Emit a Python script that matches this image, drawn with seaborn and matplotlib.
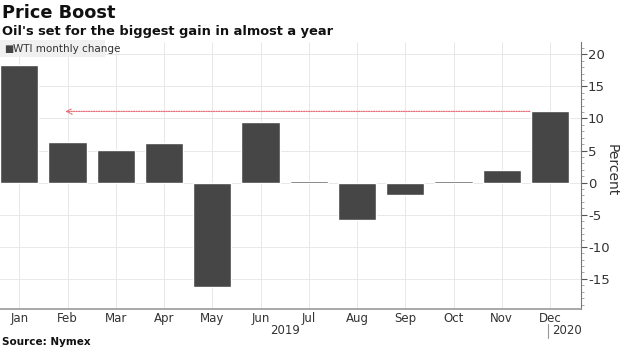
import matplotlib
matplotlib.use("Agg")
import matplotlib.pyplot as plt
import seaborn as sns
import pandas as pd
from matplotlib.ticker import MultipleLocator

months = ["Jan", "Feb", "Mar", "Apr", "May", "Jun", "Jul", "Aug", "Sep", "Oct", "Nov", "Dec"]
changes = [18.4, 6.4, 5.1, 6.2, -16.2, 9.4, 0.2, -5.8, -1.9, 0.2, 1.9, 11.1]
yticks = [-15, -10, -5, 0, 5, 10, 15, 20]

sns.set_style("white")
plt.rcParams['font.family'] = ['DejaVu Sans']

df = pd.DataFrame({"month": months, "change": changes})

fig = plt.figure(figsize=(6.2, 3.48), dpi=100)
ax = fig.add_axes([0.0, 0.112, 0.937, 0.767])

sns.barplot(data=df, x="month", y="change", color="#464646", saturation=1,
            width=0.79, ax=ax, zorder=3)

ax.set_xlim(-0.4, 11.64)
ax.set_ylim(-19.7, 21.9)

ax.yaxis.tick_right()
ax.set_yticks(yticks)
ax.set_yticklabels([str(v) for v in yticks])
ax.yaxis.set_minor_locator(MultipleLocator(1))
ax.tick_params(axis="y", which="major", length=4, color="#555555", labelsize=9.5,
               labelcolor="#333333", pad=1, direction="out")
ax.tick_params(axis="y", which="minor", length=2, color="#999999")
ax.tick_params(axis="x", length=1.5, color="#555555", labelsize=8.5,
               labelcolor="#333333", pad=0.5)
ax.set_xlabel("")
ax.set_ylabel("")
fig.text(612 / 620, 1 - 170 / 348, "Percent", rotation=270, fontsize=10,
         color="#333333", ha="center", va="center")

ax.grid(True, color="#e8e8e8", linewidth=0.7, zorder=0)
ax.set_axisbelow(True)
for s in ["top", "left"]:
    ax.spines[s].set_visible(False)
ax.spines["right"].set_color("#777777")
ax.spines["bottom"].set_color("#999999")
ax.spines["right"].set_linewidth(0.8)
ax.spines["bottom"].set_linewidth(1.2)

# arrow from Dec back to Feb level
ax.annotate("", xy=(0.95, changes[-1]), xytext=(10.58, changes[-1]),
            arrowprops=dict(arrowstyle="->", color="#e8707a", linestyle=(0, (1, 1)),
                            linewidth=0.9, shrinkA=0, shrinkB=0),
            zorder=4)

# legend box
fig.patches.append(plt.Rectangle((0.0, 0.835), 0.17, 0.05, transform=fig.transFigure,
                                 facecolor="#f0f0f0", edgecolor="none", zorder=5))
fig.text(0.006, 0.859, "■", fontsize=7, color="#444444", va="center", zorder=6)
fig.text(0.021, 0.859, "WTI monthly change", fontsize=7.5, color="#333333",
         va="center", zorder=6)

# year labels
fig.text(285 / 620, 1 - 331 / 348, "2019", fontsize=8.5, color="#333333", ha="center", va="center")
fig.text(552 / 620, 1 - 331 / 348, "2020", fontsize=8.5, color="#333333", ha="left", va="center")
fig.add_artist(plt.Line2D([548 / 620, 548 / 620], [1 - 324 / 348, 1 - 338 / 348],
                          transform=fig.transFigure, color="#999999", linewidth=0.8))

fig.text(0.003, 1 - 13 / 348, "Price Boost", fontsize=12.8, fontweight="bold",
         color="#111111", va="center")
fig.text(0.003, 1 - 31 / 348, "Oil's set for the biggest gain in almost a year",
         fontsize=9.4, fontweight="bold", color="#111111", va="center")
fig.text(0.003, 1 - 342 / 348, "Source: Nymex", fontsize=7.5, fontweight="bold",
         color="#111111", va="center")

fig.savefig("out.png", dpi=100)
